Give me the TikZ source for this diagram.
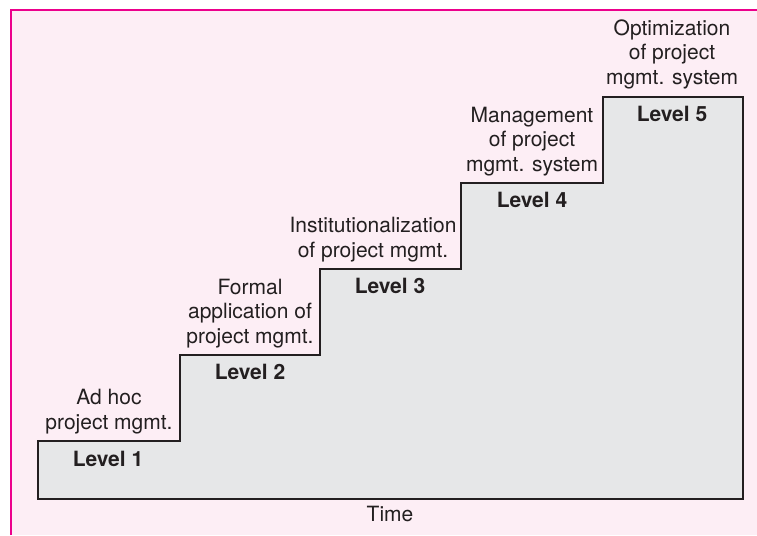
\documentclass[tikz,border=0pt]{standalone}
\usepackage{fontspec}
\setmainfont{TeX Gyre Heros}
\definecolor{bgpink}{HTML}{FDEEF5}
\definecolor{framemag}{HTML}{EC008C}
\definecolor{stairgray}{HTML}{E6E7E8}
\definecolor{ink}{HTML}{231F20}
\begin{document}
\begin{tikzpicture}[x=1pt,y=-1pt,
  desc/.style={align=center,anchor=south,inner sep=0pt,text=ink,font=\fontsize{21}{24.5}\selectfont},
  lvl/.style={anchor=base,inner sep=0pt,text=ink,font=\fontsize{21}{24.5}\selectfont\bfseries},
  stair/.style={draw=ink,line width=2.6pt,fill=stairgray,line join=miter}]
\useasboundingbox (0,0) rectangle (757,535);
\fill[bgpink] (11,10) rectangle (757,535);
\draw[framemag,line width=2.2pt] (11,535) -- (11,10) -- (757,10);
% staircase
\coordinate (s0) at (38,499);
\coordinate (s1) at (38,441);
\coordinate (s2) at (180,441);
\coordinate (s3) at (180,355);
\coordinate (s4) at (320,355);
\coordinate (s5) at (320,269);
\coordinate (s6) at (461,269);
\coordinate (s7) at (461,183);
\coordinate (s8) at (603,183);
\coordinate (s9) at (603,97);
\coordinate (s10) at (743,97);
\coordinate (s11) at (743,499);
\draw[stair] (s0) -- (s1) -- (s2) -- (s3) -- (s4) -- (s5) -- (s6) -- (s7) -- (s8) -- (s9) -- (s10) -- (s11) -- cycle;
% descriptions
\node[desc] (d1) at (109,434) {Ad hoc\\project mgmt.};
\node[desc] (d2) at (250,348) {Formal\\application of\\project mgmt.};
\node[desc] (d3) at (373,262) {Institutionalization\\of project mgmt.};
\node[desc] (d4) at (532,176) {Management\\of project\\mgmt. system};
\node[desc] (d5) at (672,89) {Optimization\\of project\\mgmt. system};
% levels
\node[lvl] (l1) at (108,466) {Level 1};
\node[lvl] (l2) at (250,379.5) {Level 2};
\node[lvl] (l3) at (390,293.5) {Level 3};
\node[lvl] (l4) at (532,207.5) {Level 4};
\node[lvl] (l5) at (672,121.5) {Level 5};
% time
\node[lvl,font=\fontsize{21}{24.5}\selectfont] (time) at (390,521.5) {Time};
\end{tikzpicture}
\end{document}
